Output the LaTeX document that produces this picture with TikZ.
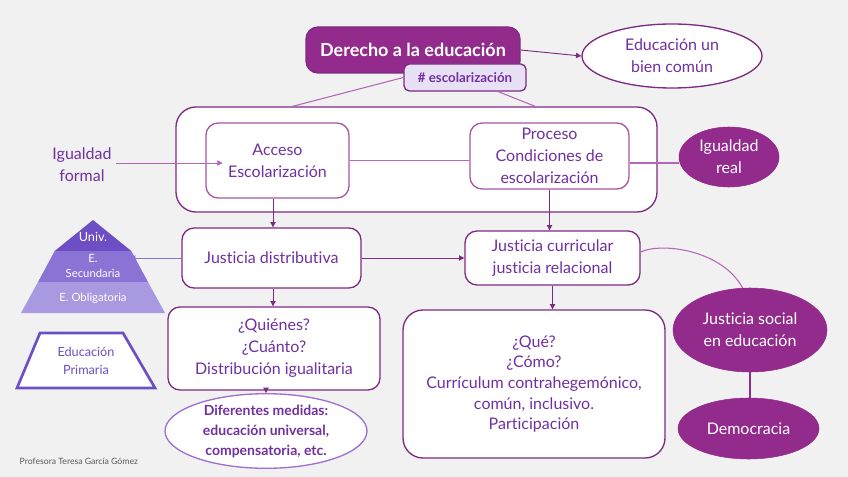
\documentclass[tikz,border=0pt]{standalone}
\usepackage{fontspec}
\setmainfont{Lato}[Ligatures=NoCommon]
\usetikzlibrary{shapes.geometric,arrows.meta,calc}
\definecolor{bg}{HTML}{F1F1F1}
\definecolor{ptext}{HTML}{7030A0}
\definecolor{pfill}{HTML}{922B8C}
\definecolor{pborder}{HTML}{7F2A83}
\definecolor{pline}{HTML}{B566B8}
\definecolor{pyrA}{HTML}{6E4EC4}
\definecolor{pyrB}{HTML}{8B72D5}
\definecolor{pyrC}{HTML}{A899E0}
\definecolor{tagfill}{HTML}{E8E1F6}
\definecolor{ellborder}{HTML}{A070D0}
\begin{document}
\begin{tikzpicture}[x=0.75pt,y=-0.75pt,
  box/.style={draw=pborder, line width=1pt, fill=white, rounded corners=9pt, align=center,
    text=ptext, font=\fontsize{12}{16.5}\selectfont, inner sep=0pt},
  inbox/.style={box, draw=pfill!80},
  fillell/.style={ellipse, fill=pfill, draw=pfill, text=white, align=center, inner sep=0pt,
    font=\fontsize{12}{16.5}\selectfont},
  openell/.style={ellipse, fill=white, draw=pborder, line width=1pt, text=ptext, align=center, inner sep=0pt,
    font=\fontsize{12}{16.5}\selectfont},
  arr/.style={-{Triangle[length=4pt,width=4pt]}, draw=pborder, line width=0.7pt},
  thin/.style={draw=pline, line width=0.8pt},
  lbl/.style={text=ptext, align=center, font=\fontsize{12}{16.5}\selectfont},
  pyrtext/.style={text=white, align=center, font=\fontsize{8.5}{11}\selectfont},
]
\useasboundingbox (0,0) rectangle (848,477);
\fill[bg] (0,0) rectangle (848,477);

% big container
\node[box, rounded corners=15pt, minimum width=360.75pt, minimum height=78.75pt] (Big) at (416.5,159.5) {};

% title and tag
\node[box, fill=pfill, draw=pborder, text=white, minimum width=160.5pt, minimum height=34.5pt,
  font=\fontsize{13.5}{16}\selectfont\bfseries] (Title) at (413,50) {Derecho a la educación};
\node[box, fill=tagfill, draw=pborder, rounded corners=4pt, minimum width=91.5pt, minimum height=20.25pt,
  font=\fontsize{10}{12}\selectfont\bfseries] (Tag) at (465,77.5) {\# escolarización};

\draw[thin] (Tag.west) -- ($(Big.north west)!0.243!(Big.north east)$);
\draw[thin] ($(Tag.south west)!0.77!(Tag.south east)$) -- ($(Big.north west)!0.746!(Big.north east)$);

\node[openell, minimum width=135pt, minimum height=48pt] (BC) at (672,56) {Educación un\\bien común};
\draw[arr] (Title.east) -- (BC.west);

% inner boxes
\node[inbox, minimum width=107.25pt, minimum height=56.25pt] (Acc) at (277.5,160.5) {Acceso\\Escolarización};
\node[inbox, minimum width=119.25pt, minimum height=49.5pt] (Proc) at (549.5,156) {Proceso\\Condiciones de\\escolarización};
\draw[thin] (Acc.east) -- (Acc.east -| Proc.west);

\node[lbl] (IF) at (82,165) {Igualdad\\formal};
\draw[arr, draw=pline, shorten >=-13pt] (IF.east |- 0,163) -- (Acc.west |- 0,163);

\node[fillell, minimum width=75pt, minimum height=45pt] (IR) at (729,157) {Igualdad\\real};
\draw[thin] (Proc.east |- 0,163) -- (IR.west |- 0,163);

% justicia boxes
\node[box, minimum width=134.25pt, minimum height=45pt] (JD) at (271.5,258) {Justicia distributiva};
\node[box, minimum width=131.25pt, minimum height=40.5pt] (JC) at (552.5,258) {Justicia curricular\\justicia relacional};
\draw[arr] (Acc.south -| 273,0) -- (JD.north -| 273,0);
\draw[arr] (Proc.south) -- (Proc.south |- JC.north);
\draw[arr] (JD.east) -- (JC.west);

% pyramid
\fill[pyrA] (93,220) -- (131.3,251) -- (54.7,251) -- cycle;
\fill[pyrB] (54.7,251) -- (131.3,251) -- (148,282) -- (38,282) -- cycle;
\fill[pyrC] (38,282) -- (148,282) -- (165,313) -- (21,313) -- cycle;
\node[pyrtext, font=\fontsize{9.5}{11}\selectfont] (PU) at (93,237) {Univ.};
\node[pyrtext] (PS) at (93,266) {E.\\Secundaria};
\node[pyrtext] (PO) at (93,298) {E. Obligatoria};
\coordinate (PyrR) at (130,258);
\draw[-{Triangle[length=4pt,width=4pt]}, draw=pyrB, line width=0.7pt] (JD.west) -- (PyrR);

% trapezoid
\draw[pyrA, line width=2pt, fill=white] (40,333) -- (123,333) -- (155,388) -- (17,388) -- cycle;
\node[text=pyrA, align=center, font=\fontsize{9.5}{13}\selectfont] (EP) at (86,361) {Educación\\Primaria};

% lower boxes
\node[box, minimum width=159pt, minimum height=62.25pt] (Qn) at (274,348.5) {¿Quiénes?\\¿Cuánto?\\Distribución igualitaria};
\draw[arr] (JD.south -| 273,0) -- (Qn.north -| 273,0);
\node[openell, draw=ellborder, minimum width=151.5pt, minimum height=51.75pt,
  font=\fontsize{10.5}{15}\selectfont\bfseries] (Dif) at (266,431) {Diferentes medidas:\\educación universal,\\compensatoria, etc.};
\draw[arr] (Dif.north |- Qn.south) -- (Dif.north);

\node[box, rounded corners=15pt, minimum width=196.5pt, minimum height=111pt,
  font=\fontsize{12}{15.5}\selectfont] (Que) at (534,384) {¿Qué?\\¿Cómo?\\Currículum contrahegemónico,\\común, inclusivo.\\Participación};
\draw[arr] (JC.south) -- (JC.south |- Que.north);

% right ellipses
\node[fillell, minimum width=115.5pt, minimum height=63pt] (JS) at (750,330) {Justicia social\\en educación};
\node[fillell, minimum width=105.75pt, minimum height=45.75pt] (Dem) at (748.5,428.5) {Democracia};
\draw[pfill, line width=1.2pt] (JS.south -| 750,0) -- (Dem.north -| 750,0);
\draw[thin] (JC.east |- 0,252) .. controls (662,242) and (722,250) .. (JS.100);

% footer
\node[anchor=west, text=black!65, font=\fontsize{6.5}{8}\selectfont] (Foot) at (15,461) {Profesora Teresa García Gómez};
\end{tikzpicture}
\end{document}
